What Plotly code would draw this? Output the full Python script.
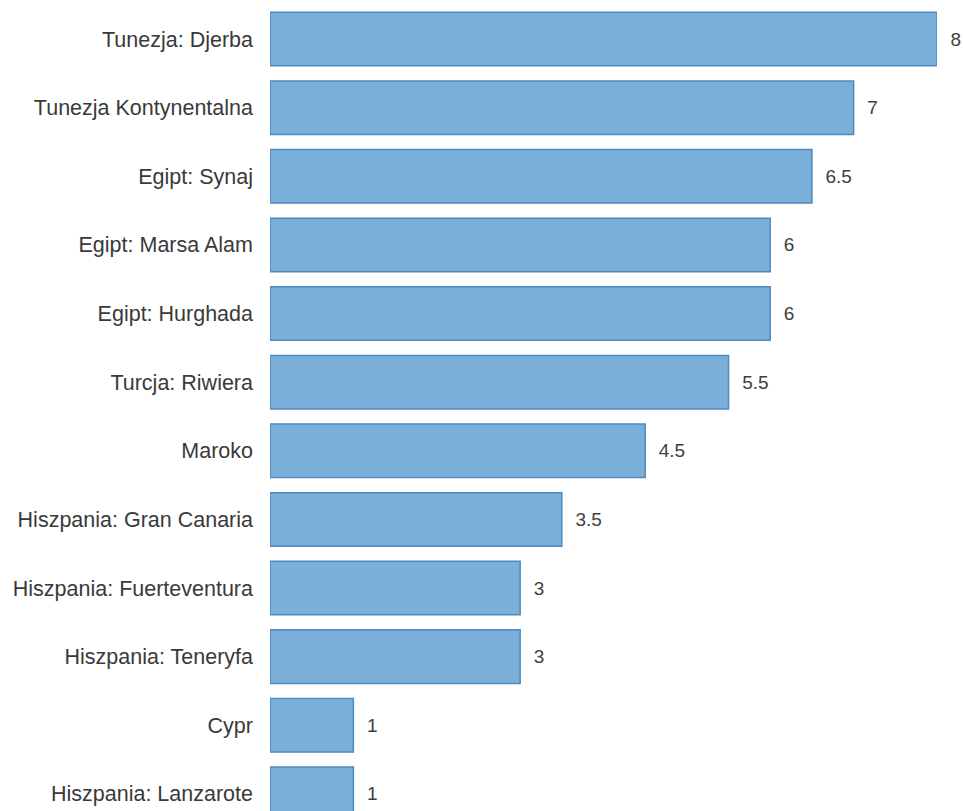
import plotly.graph_objects as go

categories = [
    "Tunezja: Djerba",
    "Tunezja Kontynentalna",
    "Egipt: Synaj",
    "Egipt: Marsa Alam",
    "Egipt: Hurghada",
    "Turcja: Riwiera",
    "Maroko",
    "Hiszpania: Gran Canaria",
    "Hiszpania: Fuerteventura",
    "Hiszpania: Teneryfa",
    "Cypr",
    "Hiszpania: Lanzarote",
]
values = [8, 7, 6.5, 6, 6, 5.5, 4.5, 3.5, 3, 3, 1, 1]
value_labels = ["8", "7", "6.5", "6", "6", "5.5", "4.5", "3.5", "3", "3", "1", "1"]

FONT = "Liberation Sans, Arial, sans-serif"

fig = go.Figure(
    go.Bar(
        x=values,
        y=categories,
        orientation="h",
        marker=dict(color="#7aafd9", line=dict(color="#4f89bf", width=1.5)),
        text=["  " + v for v in value_labels],
        textposition="outside",
        constraintext="none",
        textfont=dict(family=FONT, size=19, color="#404040"),
        cliponaxis=False,
        hoverinfo="skip",
    )
)

fig.update_layout(
    width=963,
    height=811,
    margin=dict(l=270, r=26, t=0, b=0),
    paper_bgcolor="white",
    plot_bgcolor="white",
    showlegend=False,
    bargap=0.22,
    font=dict(family=FONT, color="#3a3a3a"),
)
fig.update_xaxes(range=[0, 8], visible=False, showgrid=False, zeroline=False,
                 automargin=False)
fig.update_yaxes(
    categoryorder="array",
    categoryarray=categories,
    range=[11.25, -0.57],
    automargin=False,
    showgrid=False,
    zeroline=False,
    showline=False,
    ticks="",
    ticklabelstandoff=16,
    tickfont=dict(family=FONT, size=21.5, color="#3a3a3a"),
)

fig.write_html(
    "out.html",
    config={"displayModeBar": False, "staticPlot": True},
    post_script="document.body.style.margin='0';document.body.style.overflow='hidden';",
)
